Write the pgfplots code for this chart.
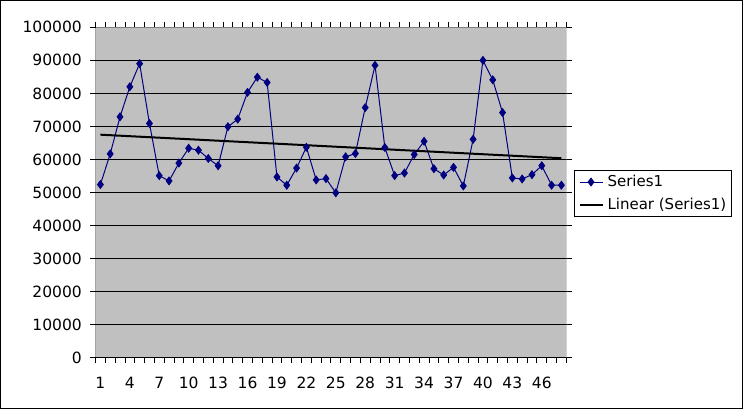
\documentclass[border=0pt]{standalone}
\usepackage{fontspec}
\setmainfont{DejaVu Sans}
\usepackage{pgfplots}
\pgfplotsset{compat=1.18}
\usepackage{pgfplotstable}
\definecolor{plotgray}{RGB}{192,192,192}
\definecolor{bordergray}{RGB}{128,128,128}
\definecolor{navy}{RGB}{0,0,128}
\pgfplotstableread{
x y
1 52400
2 61700
3 72900
4 82000
5 89000
6 70900
7 55100
8 53500
9 58900
10 63400
11 62800
12 60300
13 58100
14 69900
15 72200
16 80300
17 84900
18 83300
19 54700
20 52200
21 57400
22 63700
23 53800
24 54200
25 49900
26 60800
27 61800
28 75700
29 88500
30 63600
31 55100
32 55900
33 61500
34 65500
35 57200
36 55300
37 57600
38 52000
39 66100
40 90000
41 84100
42 74200
43 54400
44 54100
45 55400
46 58100
47 52200
48 52200
}\data
\begin{document}
\begin{tikzpicture}
\useasboundingbox (0,0) rectangle (744bp,410bp);
\draw[line width=1bp] (0.5bp,1.5bp) rectangle (742.5bp,409.5bp);
\begin{axis}[
  at={(95.5bp,52.3bp)}, anchor=south west,
  scale only axis, width=470.8bp, height=330.4bp,
  xmin=0.5, xmax=48.5, ymin=0, ymax=100000,
  axis background/.style={fill=plotgray},
  axis line style={draw=none},
  xtick={1,4,7,10,13,16,19,22,25,28,31,34,37,40,43,46},
  xticklabels={1,4,7,10,13,16,19,22,25,28,31,34,37,40,43,46},
  minor xtick={0.5,1.5,...,48.5},
  major x tick style={draw=none},
  ytick={0,10000,20000,30000,40000,50000,60000,70000,80000,90000,100000},
  yticklabels={0,10000,20000,30000,40000,50000,60000,70000,80000,90000,100000},
  tick align=outside,
  tick style={black, line width=0.8bp},
  major tick length=5.5bp, minor tick length=5.5bp,
  ymajorgrids, grid style={black, line width=1bp},
  scaled y ticks=false,
  ticklabel style={font=\fontsize{15.5bp}{18bp}\selectfont},
  yticklabel style={inner sep=0pt, xshift=-8bp},
  xticklabel style={inner sep=0pt, yshift=-13.5bp},
  legend style={at={(1.0164,0.568)}, anchor=north west, draw=black, line width=1bp,
    fill=white, font=\fontsize{15bp}{18bp}\selectfont, inner xsep=4bp, inner ysep=3.5bp,
    row sep=7bp, nodes={inner sep=1bp, text height=11bp, text depth=3bp},
    /tikz/every odd column/.style={column sep=3bp}},
  legend cell align=left,
  legend image code/.code={\draw[mark repeat=2,mark phase=2,#1] plot coordinates {(0bp,0bp) (11.5bp,0bp) (23bp,0bp)};},
]
\addplot[navy, line width=1bp, mark=diamond*, mark size=3.8bp, mark options={solid, fill=navy}] table[x=x,y=y] {\data};
\addplot[black, line width=2bp, no marks] table[x=x, y={create col/linear regression={y=y}}] {\data};
\legend{Series1, Linear (Series1)}
\draw[bordergray, line width=1bp] (rel axis cs:0,1) -- (rel axis cs:1,1) -- (rel axis cs:1,0);
\draw[black, line width=1bp] (rel axis cs:0,1) -- (rel axis cs:0,0) -- (rel axis cs:1,0);
\end{axis}
\end{tikzpicture}
\end{document}
